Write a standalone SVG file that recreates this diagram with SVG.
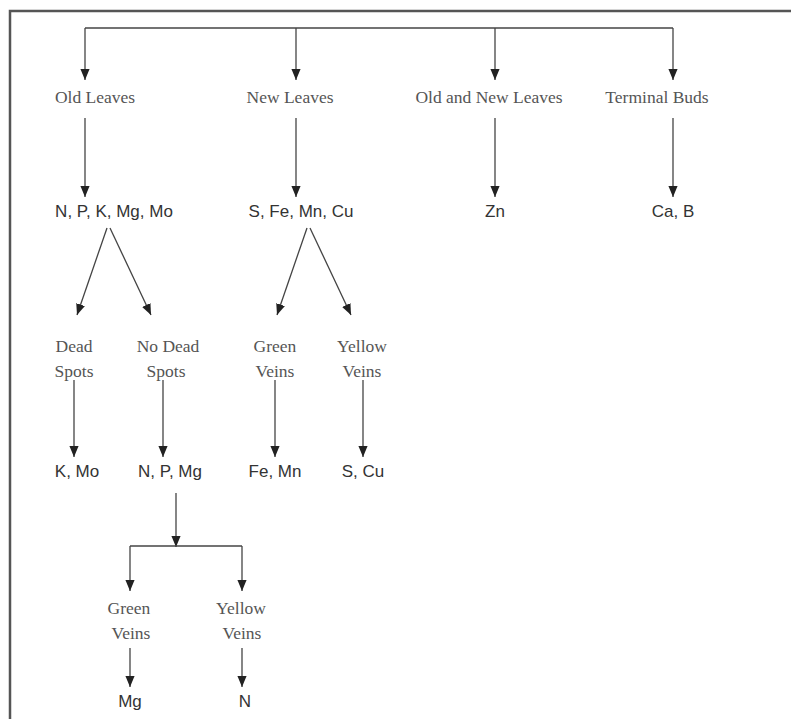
<svg xmlns="http://www.w3.org/2000/svg" width="791" height="719" viewBox="0 0 791 719">
<defs>
<marker id="ah" markerWidth="11" markerHeight="13" refX="12" refY="5" orient="auto" markerUnits="userSpaceOnUse" viewBox="0 0 12 10">
<path d="M0,0 L12,5 L0,10 Z" fill="#222"/>
</marker>
<style>
.c{fill:none;stroke:#444;stroke-width:1.3}
.a{marker-end:url(#ah)}
.s{font-family:"Liberation Serif","Times New Roman",serif;font-size:17.5px;fill:#555;text-anchor:middle}
.n{font-family:"Liberation Sans",Arial,sans-serif;font-size:17px;fill:#333;text-anchor:middle}
</style>
</defs>
<rect width="791" height="719" fill="#fff"/>
<path d="M10,719 V11 H791" fill="none" stroke="#555" stroke-width="2.5"/>
<g id="connectors">
<path class="c" d="M85,28 H673"/>
<path class="c a" d="M85,28 V80"/>
<path class="c a" d="M296,28 V80"/>
<path class="c a" d="M495,28 V80"/>
<path class="c a" d="M673,28 V80"/>
<path class="c a" d="M85,118 V197"/>
<path class="c a" d="M296,118 V197"/>
<path class="c a" d="M495,118 V197"/>
<path class="c a" d="M673,118 V197"/>
<path class="c a" d="M107,228 L77,315"/>
<path class="c a" d="M110,228 L151,315"/>
<path class="c a" d="M307,228 L277,315"/>
<path class="c a" d="M310,228 L351,315"/>
<path class="c a" d="M74,380 V457"/>
<path class="c a" d="M163,380 V457"/>
<path class="c a" d="M275,380 V457"/>
<path class="c a" d="M363,380 V457"/>
<path class="c a" d="M176,493 V547"/>
<path class="c" d="M130,546 H242"/>
<path class="c a" d="M130,546 V591"/>
<path class="c a" d="M242,546 V591"/>
<path class="c a" d="M130,648 V687"/>
<path class="c a" d="M242,648 V687"/>
</g>
<g id="old-leaves"><text class="s" x="95" y="103">Old Leaves</text></g>
<g id="new-leaves"><text class="s" x="290" y="103">New Leaves</text></g>
<g id="old-new-leaves"><text class="s" x="489" y="103">Old and New Leaves</text></g>
<g id="terminal-buds"><text class="s" x="657" y="103">Terminal Buds</text></g>
<g id="npkmgmo"><text class="n" x="114" y="217">N, P, K, Mg, Mo</text></g>
<g id="sfemncu"><text class="n" x="301" y="217">S, Fe, Mn, Cu</text></g>
<g id="zn"><text class="n" x="495" y="217">Zn</text></g>
<g id="cab"><text class="n" x="673" y="217">Ca, B</text></g>
<g id="dead-spots"><text class="s" x="74" y="352">Dead</text><text class="s" x="74" y="377">Spots</text></g>
<g id="no-dead-spots"><text class="s" x="168" y="352">No Dead</text><text class="s" x="166" y="377">Spots</text></g>
<g id="green-veins-1"><text class="s" x="275" y="352">Green</text><text class="s" x="275" y="377">Veins</text></g>
<g id="yellow-veins-1"><text class="s" x="362" y="352">Yellow</text><text class="s" x="362" y="377">Veins</text></g>
<g id="kmo"><text class="n" x="77" y="477">K, Mo</text></g>
<g id="npmg"><text class="n" x="170" y="477">N, P, Mg</text></g>
<g id="femn"><text class="n" x="275" y="477">Fe, Mn</text></g>
<g id="scu"><text class="n" x="363" y="477">S, Cu</text></g>
<g id="green-veins-2"><text class="s" x="129" y="614">Green</text><text class="s" x="131" y="639">Veins</text></g>
<g id="yellow-veins-2"><text class="s" x="241" y="614">Yellow</text><text class="s" x="242" y="639">Veins</text></g>
<g id="mg"><text class="n" x="130" y="707">Mg</text></g>
<g id="n"><text class="n" x="245" y="707">N</text></g>
</svg>
